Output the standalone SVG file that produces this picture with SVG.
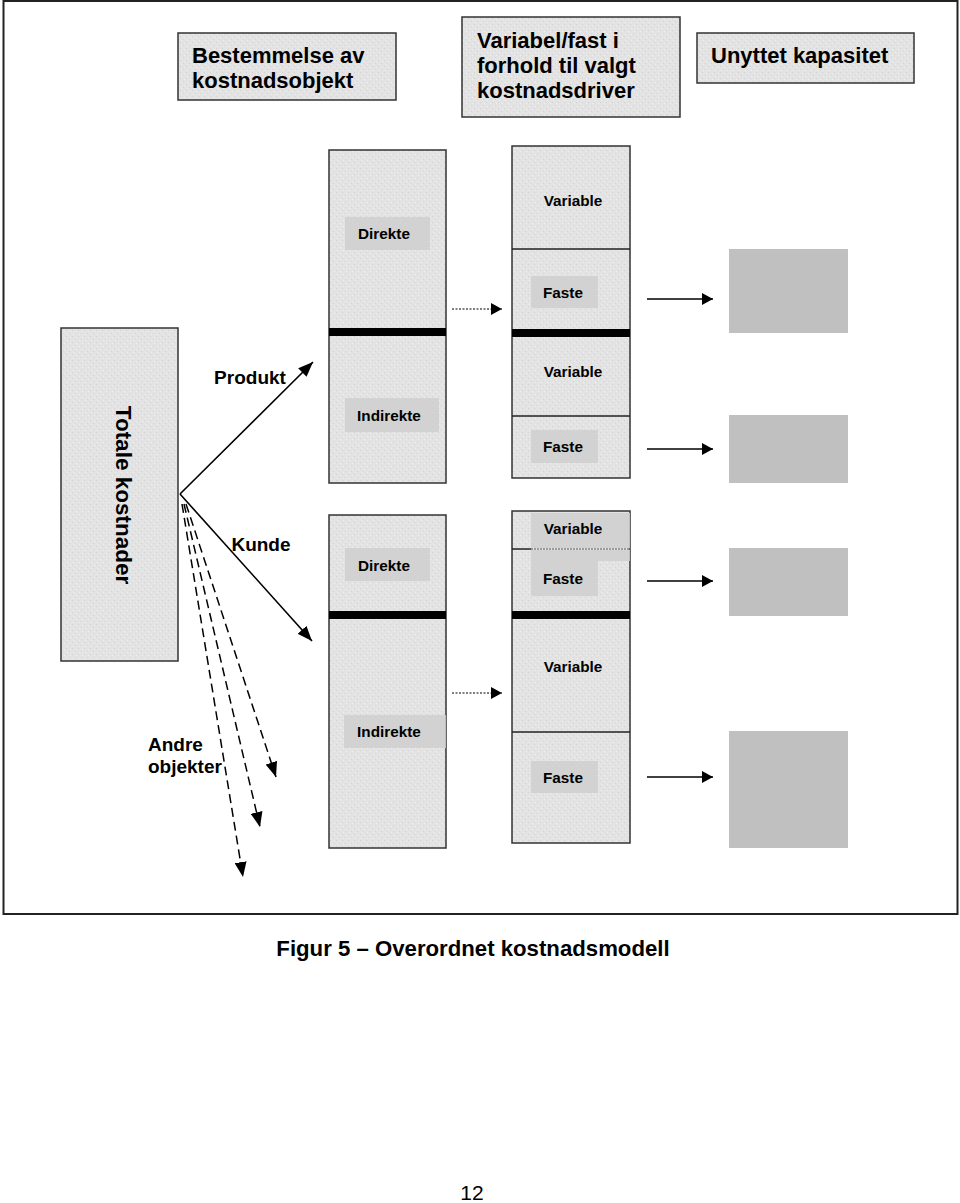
<svg xmlns="http://www.w3.org/2000/svg" width="960" height="1203" viewBox="0 0 960 1203">
<defs>
  <pattern id="tex" width="6" height="6" patternUnits="userSpaceOnUse">
    <rect width="6" height="6" fill="#e3e3e3"/>
    <rect x="0" y="0" width="1" height="1" fill="#d2d2d2"/>
    <rect x="3" y="3" width="1" height="1" fill="#d6d6d6"/>
    <rect x="4" y="1" width="1" height="1" fill="#efefef"/>
    <rect x="1" y="4" width="1" height="1" fill="#efefef"/>
  </pattern>
  <marker id="ah" markerWidth="16" markerHeight="12" refX="15" refY="6" orient="auto" markerUnits="userSpaceOnUse">
    <path d="M0,0 L15,6 L0,12 Z" fill="#000"/>
  </marker>
  <marker id="ahs" markerWidth="12" markerHeight="12" refX="11" refY="6" orient="auto" markerUnits="userSpaceOnUse">
    <path d="M0,0 L11,6 L0,12 Z" fill="#000"/>
  </marker>
  <style>
    .hdr{fill:url(#tex);stroke:#333;stroke-width:1.5}
    .col{fill:url(#tex);stroke:#333;stroke-width:1.5}
    .bar{fill:#000}
    .patch{fill:#cfcfcf;opacity:0.85}
    .res{fill:#c0c0c0}
    .t22{font-family:"Liberation Sans",Arial,sans-serif;font-weight:bold;font-size:22px;fill:#000}
    .t19{font-family:"Liberation Sans",Arial,sans-serif;font-weight:bold;font-size:19px;fill:#000}
    .t15{font-family:"Liberation Sans",Arial,sans-serif;font-weight:bold;font-size:15.3px;fill:#000}
    .mid{text-anchor:middle;dominant-baseline:central}
    .conn{stroke:#000;stroke-width:1.6;fill:none}
    .dash{stroke:#000;stroke-width:1.5;fill:none;stroke-dasharray:9 5}
    .dot{stroke:#000;stroke-width:1.2;fill:none;stroke-dasharray:2 1.5}
  </style>
</defs>
<rect width="960" height="1203" fill="#fff"/>
<rect x="3.5" y="1" width="954" height="913" fill="none" stroke="#222" stroke-width="2"/>

<g id="hdr1">
  <rect class="hdr" x="178" y="33" width="218" height="67"/>
  <text class="t22" x="192" y="63">Bestemmelse av</text>
  <text class="t22" x="192" y="88">kostnadsobjekt</text>
</g>
<g id="hdr2">
  <rect class="hdr" x="462" y="17" width="218" height="100"/>
  <text class="t22" x="477" y="48">Variabel/fast i</text>
  <text class="t22" x="477" y="73">forhold til valgt</text>
  <text class="t22" x="477" y="98">kostnadsdriver</text>
</g>
<g id="hdr3">
  <rect class="hdr" x="697" y="33" width="217" height="50"/>
  <text class="t22" x="711" y="63">Unyttet kapasitet</text>
</g>

<g id="totale">
  <rect class="col" x="61" y="328" width="117" height="333"/>
  <text class="t22 mid" x="0" y="0" transform="translate(123,495) rotate(90)" style="font-size:22.5px">Totale kostnader</text>
</g>

<g id="col1a">
  <rect class="col" x="329" y="150" width="117" height="333"/>
  <rect class="bar" x="329" y="328" width="117" height="8"/>
  <rect class="patch" x="345" y="217" width="85" height="33"/>
  <text class="t15 mid" x="384" y="233">Direkte</text>
  <rect class="patch" x="345" y="398" width="94" height="34"/>
  <text class="t15 mid" x="389" y="415">Indirekte</text>
</g>
<g id="col1b">
  <rect class="col" x="329" y="515" width="117" height="333"/>
  <rect class="bar" x="329" y="611" width="117" height="8"/>
  <rect class="patch" x="345" y="548" width="85" height="33"/>
  <text class="t15 mid" x="384" y="565">Direkte</text>
  <rect class="patch" x="344" y="715" width="102" height="33"/>
  <text class="t15 mid" x="389" y="731">Indirekte</text>
</g>

<g id="col2a">
  <rect class="col" x="512" y="146" width="118" height="332"/>
  <line x1="512" y1="249" x2="630" y2="249" stroke="#222" stroke-width="1.5"/>
  <rect class="bar" x="512" y="329" width="118" height="8"/>
  <line x1="512" y1="416" x2="630" y2="416" stroke="#222" stroke-width="1.5"/>
  <text class="t15 mid" x="573" y="200">Variable</text>
  <rect class="patch" x="531" y="276" width="67" height="32"/>
  <text class="t15 mid" x="563" y="292">Faste</text>
  <text class="t15 mid" x="573" y="371">Variable</text>
  <rect class="patch" x="531" y="430" width="67" height="33"/>
  <text class="t15 mid" x="563" y="446">Faste</text>
</g>
<g id="col2b">
  <rect class="col" x="512" y="511" width="118" height="332"/>
  <rect class="patch" x="531" y="513" width="99" height="35"/>
  <rect class="patch" x="531" y="550" width="67" height="46"/>
  <rect class="patch" x="598" y="550" width="32" height="11" opacity="0.5"/>
  <line x1="512" y1="549" x2="531" y2="549" stroke="#222" stroke-width="1.5"/>
  <line x1="531" y1="549" x2="630" y2="549" stroke="#555" stroke-width="1.2" stroke-dasharray="2 1"/>
  <text class="t15 mid" x="573" y="528">Variable</text>
  <text class="t15 mid" x="563" y="578">Faste</text>
  <rect class="bar" x="512" y="611" width="118" height="8"/>
  <text class="t15 mid" x="573" y="666">Variable</text>
  <line x1="512" y1="732" x2="630" y2="732" stroke="#222" stroke-width="1.5"/>
  <rect class="patch" x="531" y="761" width="67" height="32"/>
  <text class="t15 mid" x="563" y="777">Faste</text>
</g>

<g id="res1"><rect class="res" x="729" y="249" width="119" height="84"/></g>
<g id="res2"><rect class="res" x="729" y="415" width="119" height="68"/></g>
<g id="res3"><rect class="res" x="729" y="548" width="119" height="68"/></g>
<g id="res4"><rect class="res" x="729" y="731" width="119" height="117"/></g>

<g id="labels">
  <text class="t19 mid" x="250" y="377">Produkt</text>
  <text class="t19 mid" x="261" y="544">Kunde</text>
  <text class="t19" x="148" y="751">Andre</text>
  <text class="t19" x="148" y="773">objekter</text>
</g>

<g id="connectors">
  <line class="conn" x1="180" y1="494" x2="313" y2="362" marker-end="url(#ah)"/>
  <line class="conn" x1="180" y1="494" x2="312" y2="641" marker-end="url(#ah)"/>
  <line class="dash" x1="186" y1="504" x2="276" y2="777" marker-end="url(#ah)"/>
  <line class="dash" x1="184" y1="504" x2="260" y2="827" marker-end="url(#ah)"/>
  <line class="dash" x1="182" y1="504" x2="243" y2="877" marker-end="url(#ah)"/>
  <line class="dot" x1="452" y1="309" x2="502" y2="309" marker-end="url(#ahs)"/>
  <line class="dot" x1="452" y1="693" x2="502" y2="693" marker-end="url(#ahs)"/>
  <line class="conn" x1="647" y1="299" x2="713" y2="299" marker-end="url(#ahs)"/>
  <line class="conn" x1="647" y1="449" x2="713" y2="449" marker-end="url(#ahs)"/>
  <line class="conn" x1="647" y1="581" x2="713" y2="581" marker-end="url(#ahs)"/>
  <line class="conn" x1="647" y1="777" x2="713" y2="777" marker-end="url(#ahs)"/>
</g>

<text class="t22 mid" x="473" y="948" style="font-size:22.2px">Figur 5 – Overordnet kostnadsmodell</text>
<text x="472" y="1200" text-anchor="middle" font-family="Liberation Sans, Arial, sans-serif" font-size="21" fill="#000">12</text>
</svg>
